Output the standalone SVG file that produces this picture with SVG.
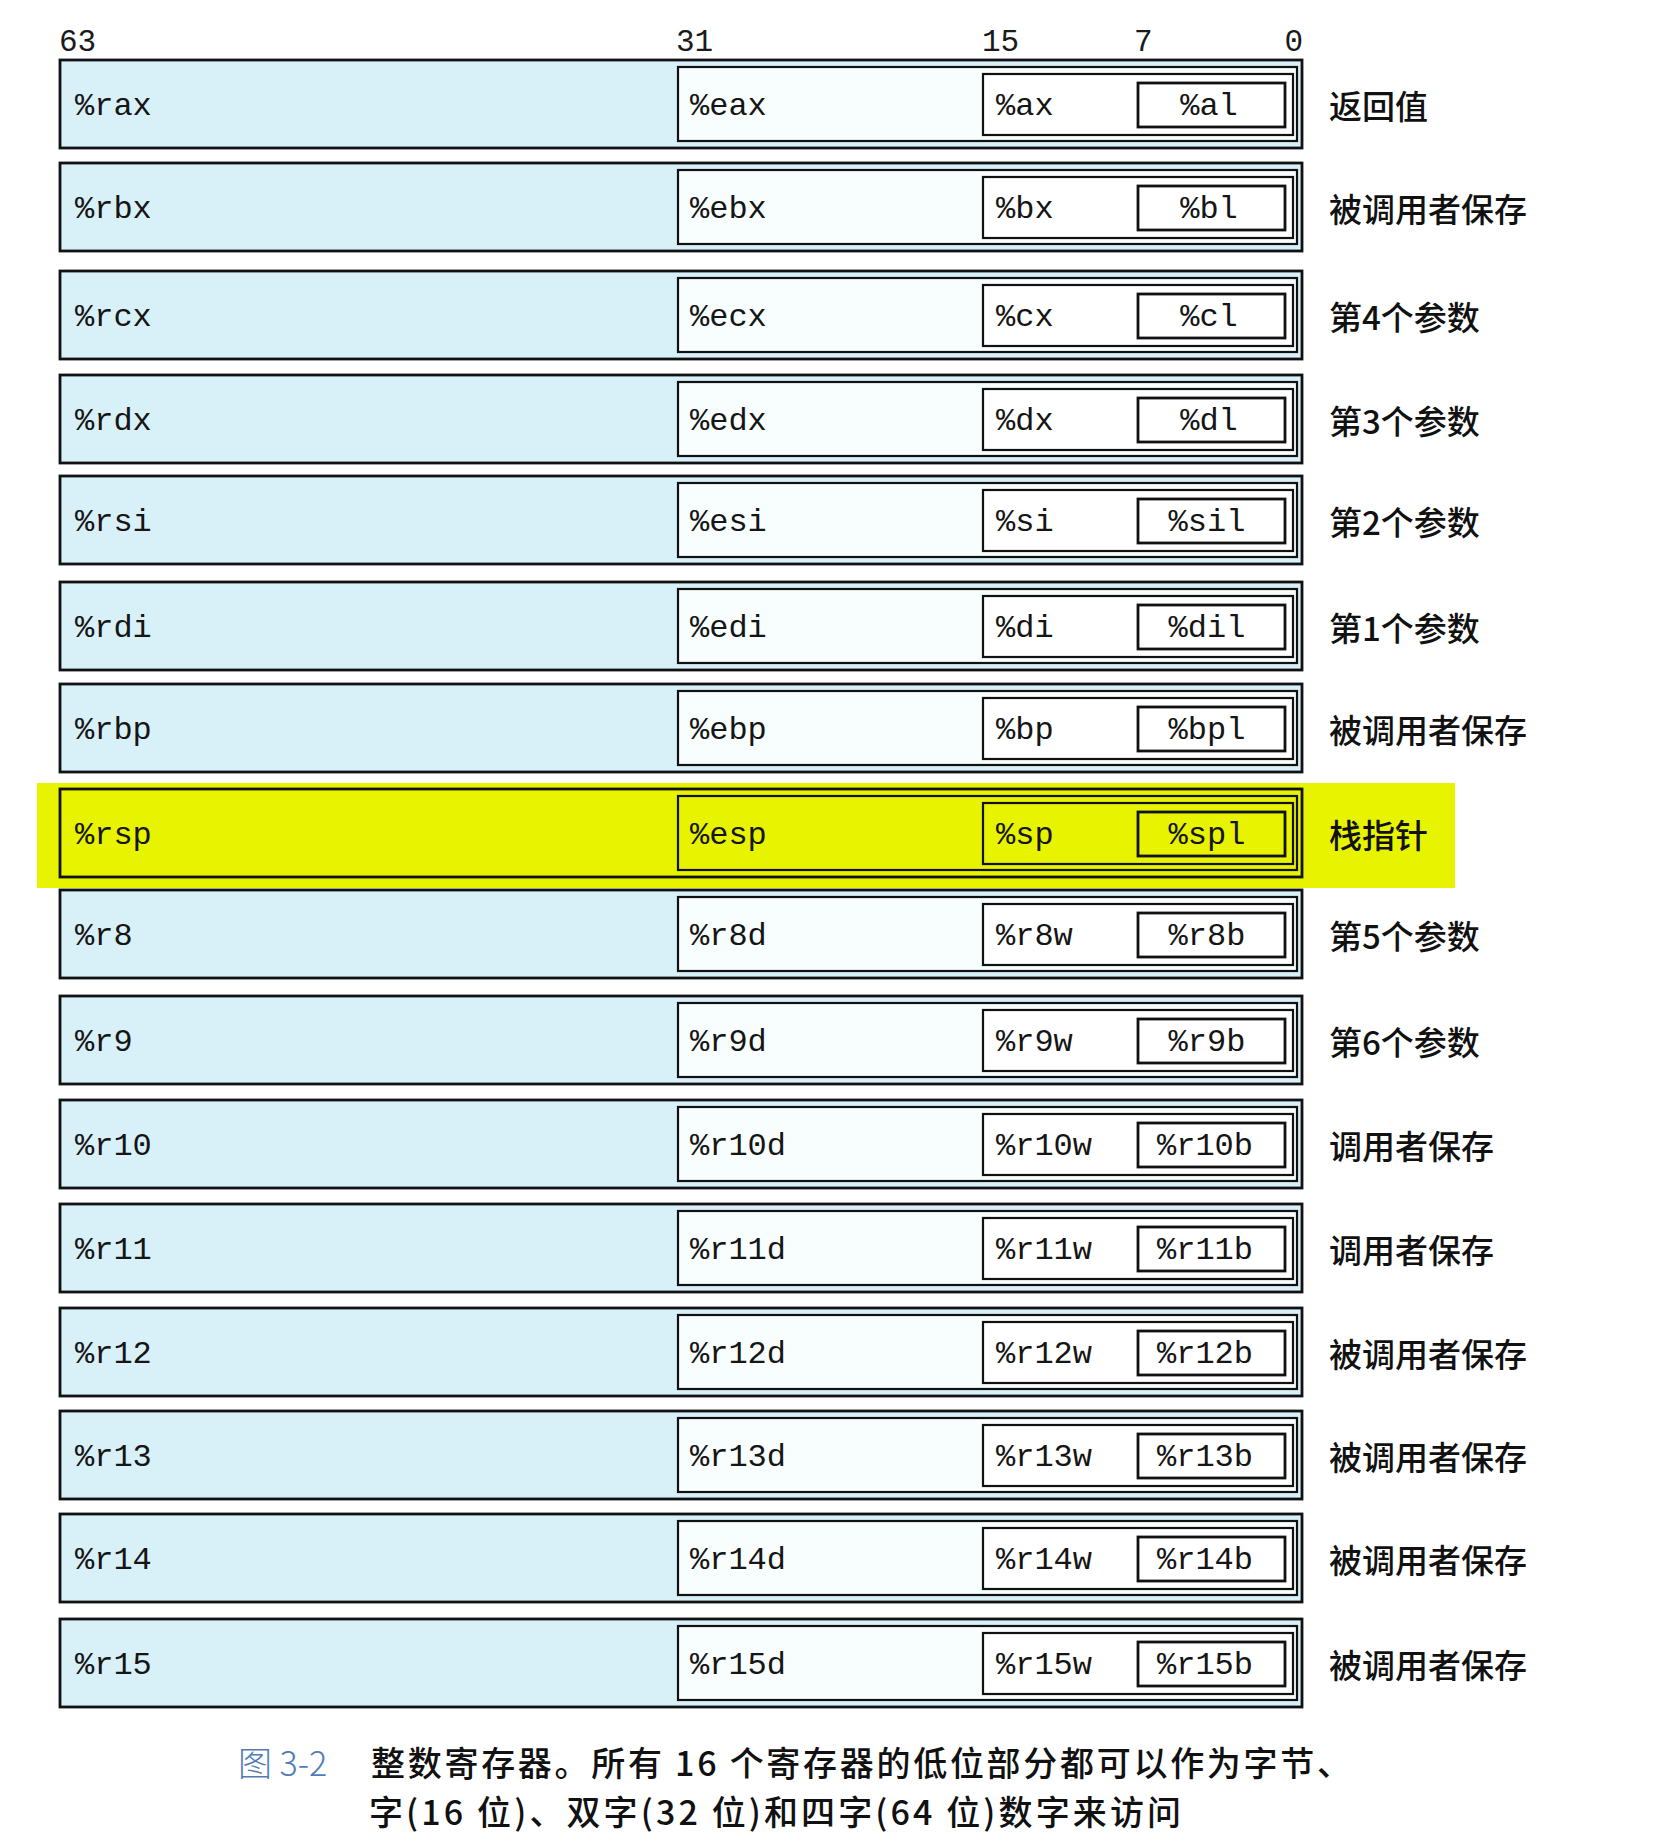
<svg xmlns="http://www.w3.org/2000/svg" width="1660" height="1840" viewBox="0 0 1660 1840">
<style>
.bg{fill:#ffffff}
.r64{fill:#d8f0f8;stroke:#111;stroke-width:2.8}
.r32{fill:#f8fdfe;stroke:#111;stroke-width:2.2}
.r16{fill:#ffffff;stroke:#111;stroke-width:2.2}
.r8{fill:#ffffff;stroke:#111;stroke-width:2.8}
.hl .r64,.hl .r32,.hl .r16,.hl .r8{fill:#e8f300}
.hlband{fill:#e8f300}
.reg{font-family:"Liberation Mono","DejaVu Sans Mono",monospace;font-size:32px;fill:#151515}
.mid{text-anchor:middle}
.bit{font-family:"Liberation Mono","DejaVu Sans Mono",monospace;font-size:31px;fill:#1a1a1a}
.lab{font-family:"Noto Sans CJK SC",sans-serif;font-size:33px;font-weight:500;fill:#111}
.cap{font-family:"Noto Sans CJK SC",sans-serif;font-size:34px;font-weight:500;fill:#111}
.capn{font-family:"Noto Sans CJK SC",sans-serif;font-size:34px;font-weight:300;fill:#4f7cb8}
</style>
<rect class="bg" x="0" y="0" width="1660" height="1840"/>

<g id="bit-positions">
<text class="bit" x="59" y="51">63</text>
<text class="bit" x="676" y="51">31</text>
<text class="bit" x="982" y="51">15</text>
<text class="bit" x="1134" y="51">7</text>
<text class="bit" x="1303" y="51" text-anchor="end">0</text>
</g>

<g id="reg-rax">
<rect class="r64" x="60" y="60" width="1242" height="88"/>
<rect class="r32" x="678" y="67" width="619" height="74"/>
<rect class="r16" x="983" y="74" width="310" height="61"/>
<rect class="r8" x="1138" y="83" width="147" height="44"/>
<text class="reg" x="75" y="115">%rax</text>
<text class="reg" x="690" y="115">%eax</text>
<text class="reg" x="996" y="115">%ax</text>
<text class="reg mid" x="1209" y="115">%al</text>
<text class="lab" x="1329" y="119">返回值</text>
</g>

<g id="reg-rbx">
<rect class="r64" x="60" y="163" width="1242" height="88"/>
<rect class="r32" x="678" y="170" width="619" height="74"/>
<rect class="r16" x="983" y="177" width="310" height="61"/>
<rect class="r8" x="1138" y="186" width="147" height="44"/>
<text class="reg" x="75" y="218">%rbx</text>
<text class="reg" x="690" y="218">%ebx</text>
<text class="reg" x="996" y="218">%bx</text>
<text class="reg mid" x="1209" y="218">%bl</text>
<text class="lab" x="1329" y="222">被调用者保存</text>
</g>

<g id="reg-rcx">
<rect class="r64" x="60" y="271" width="1242" height="88"/>
<rect class="r32" x="678" y="278" width="619" height="74"/>
<rect class="r16" x="983" y="285" width="310" height="61"/>
<rect class="r8" x="1138" y="294" width="147" height="44"/>
<text class="reg" x="75" y="326">%rcx</text>
<text class="reg" x="690" y="326">%ecx</text>
<text class="reg" x="996" y="326">%cx</text>
<text class="reg mid" x="1209" y="326">%cl</text>
<text class="lab" x="1329" y="330">第4个参数</text>
</g>

<g id="reg-rdx">
<rect class="r64" x="60" y="375" width="1242" height="88"/>
<rect class="r32" x="678" y="382" width="619" height="74"/>
<rect class="r16" x="983" y="389" width="310" height="61"/>
<rect class="r8" x="1138" y="398" width="147" height="44"/>
<text class="reg" x="75" y="430">%rdx</text>
<text class="reg" x="690" y="430">%edx</text>
<text class="reg" x="996" y="430">%dx</text>
<text class="reg mid" x="1209" y="430">%dl</text>
<text class="lab" x="1329" y="434">第3个参数</text>
</g>

<g id="reg-rsi">
<rect class="r64" x="60" y="476" width="1242" height="88"/>
<rect class="r32" x="678" y="483" width="619" height="74"/>
<rect class="r16" x="983" y="490" width="310" height="61"/>
<rect class="r8" x="1138" y="499" width="147" height="44"/>
<text class="reg" x="75" y="531">%rsi</text>
<text class="reg" x="690" y="531">%esi</text>
<text class="reg" x="996" y="531">%si</text>
<text class="reg mid" x="1207" y="531">%sil</text>
<text class="lab" x="1329" y="535">第2个参数</text>
</g>

<g id="reg-rdi">
<rect class="r64" x="60" y="582" width="1242" height="88"/>
<rect class="r32" x="678" y="589" width="619" height="74"/>
<rect class="r16" x="983" y="596" width="310" height="61"/>
<rect class="r8" x="1138" y="605" width="147" height="44"/>
<text class="reg" x="75" y="637">%rdi</text>
<text class="reg" x="690" y="637">%edi</text>
<text class="reg" x="996" y="637">%di</text>
<text class="reg mid" x="1207" y="637">%dil</text>
<text class="lab" x="1329" y="641">第1个参数</text>
</g>

<g id="reg-rbp">
<rect class="r64" x="60" y="684" width="1242" height="88"/>
<rect class="r32" x="678" y="691" width="619" height="74"/>
<rect class="r16" x="983" y="698" width="310" height="61"/>
<rect class="r8" x="1138" y="707" width="147" height="44"/>
<text class="reg" x="75" y="739">%rbp</text>
<text class="reg" x="690" y="739">%ebp</text>
<text class="reg" x="996" y="739">%bp</text>
<text class="reg mid" x="1207" y="739">%bpl</text>
<text class="lab" x="1329" y="743">被调用者保存</text>
</g>

<g id="reg-rsp" class="hl">
<rect class="hlband" x="37" y="783" width="1418" height="105"/>
<rect class="r64" x="60" y="789" width="1242" height="88"/>
<rect class="r32" x="678" y="796" width="619" height="74"/>
<rect class="r16" x="983" y="803" width="310" height="61"/>
<rect class="r8" x="1138" y="812" width="147" height="44"/>
<text class="reg" x="75" y="844">%rsp</text>
<text class="reg" x="690" y="844">%esp</text>
<text class="reg" x="996" y="844">%sp</text>
<text class="reg mid" x="1207" y="844">%spl</text>
<text class="lab" x="1329" y="848">栈指针</text>
</g>

<g id="reg-r8">
<rect class="r64" x="60" y="890" width="1242" height="88"/>
<rect class="r32" x="678" y="897" width="619" height="74"/>
<rect class="r16" x="983" y="904" width="310" height="61"/>
<rect class="r8" x="1138" y="913" width="147" height="44"/>
<text class="reg" x="75" y="945">%r8</text>
<text class="reg" x="690" y="945">%r8d</text>
<text class="reg" x="996" y="945">%r8w</text>
<text class="reg mid" x="1207" y="945">%r8b</text>
<text class="lab" x="1329" y="949">第5个参数</text>
</g>

<g id="reg-r9">
<rect class="r64" x="60" y="996" width="1242" height="88"/>
<rect class="r32" x="678" y="1003" width="619" height="74"/>
<rect class="r16" x="983" y="1010" width="310" height="61"/>
<rect class="r8" x="1138" y="1019" width="147" height="44"/>
<text class="reg" x="75" y="1051">%r9</text>
<text class="reg" x="690" y="1051">%r9d</text>
<text class="reg" x="996" y="1051">%r9w</text>
<text class="reg mid" x="1207" y="1051">%r9b</text>
<text class="lab" x="1329" y="1055">第6个参数</text>
</g>

<g id="reg-r10">
<rect class="r64" x="60" y="1100" width="1242" height="88"/>
<rect class="r32" x="678" y="1107" width="619" height="74"/>
<rect class="r16" x="983" y="1114" width="310" height="61"/>
<rect class="r8" x="1138" y="1123" width="147" height="44"/>
<text class="reg" x="75" y="1155">%r10</text>
<text class="reg" x="690" y="1155">%r10d</text>
<text class="reg" x="996" y="1155">%r10w</text>
<text class="reg mid" x="1205" y="1155">%r10b</text>
<text class="lab" x="1329" y="1159">调用者保存</text>
</g>

<g id="reg-r11">
<rect class="r64" x="60" y="1204" width="1242" height="88"/>
<rect class="r32" x="678" y="1211" width="619" height="74"/>
<rect class="r16" x="983" y="1218" width="310" height="61"/>
<rect class="r8" x="1138" y="1227" width="147" height="44"/>
<text class="reg" x="75" y="1259">%r11</text>
<text class="reg" x="690" y="1259">%r11d</text>
<text class="reg" x="996" y="1259">%r11w</text>
<text class="reg mid" x="1205" y="1259">%r11b</text>
<text class="lab" x="1329" y="1263">调用者保存</text>
</g>

<g id="reg-r12">
<rect class="r64" x="60" y="1308" width="1242" height="88"/>
<rect class="r32" x="678" y="1315" width="619" height="74"/>
<rect class="r16" x="983" y="1322" width="310" height="61"/>
<rect class="r8" x="1138" y="1331" width="147" height="44"/>
<text class="reg" x="75" y="1363">%r12</text>
<text class="reg" x="690" y="1363">%r12d</text>
<text class="reg" x="996" y="1363">%r12w</text>
<text class="reg mid" x="1205" y="1363">%r12b</text>
<text class="lab" x="1329" y="1367">被调用者保存</text>
</g>

<g id="reg-r13">
<rect class="r64" x="60" y="1411" width="1242" height="88"/>
<rect class="r32" x="678" y="1418" width="619" height="74"/>
<rect class="r16" x="983" y="1425" width="310" height="61"/>
<rect class="r8" x="1138" y="1434" width="147" height="44"/>
<text class="reg" x="75" y="1466">%r13</text>
<text class="reg" x="690" y="1466">%r13d</text>
<text class="reg" x="996" y="1466">%r13w</text>
<text class="reg mid" x="1205" y="1466">%r13b</text>
<text class="lab" x="1329" y="1470">被调用者保存</text>
</g>

<g id="reg-r14">
<rect class="r64" x="60" y="1514" width="1242" height="88"/>
<rect class="r32" x="678" y="1521" width="619" height="74"/>
<rect class="r16" x="983" y="1528" width="310" height="61"/>
<rect class="r8" x="1138" y="1537" width="147" height="44"/>
<text class="reg" x="75" y="1569">%r14</text>
<text class="reg" x="690" y="1569">%r14d</text>
<text class="reg" x="996" y="1569">%r14w</text>
<text class="reg mid" x="1205" y="1569">%r14b</text>
<text class="lab" x="1329" y="1573">被调用者保存</text>
</g>

<g id="reg-r15">
<rect class="r64" x="60" y="1619" width="1242" height="88"/>
<rect class="r32" x="678" y="1626" width="619" height="74"/>
<rect class="r16" x="983" y="1633" width="310" height="61"/>
<rect class="r8" x="1138" y="1642" width="147" height="44"/>
<text class="reg" x="75" y="1674">%r15</text>
<text class="reg" x="690" y="1674">%r15d</text>
<text class="reg" x="996" y="1674">%r15w</text>
<text class="reg mid" x="1205" y="1674">%r15b</text>
<text class="lab" x="1329" y="1678">被调用者保存</text>
</g>

<g id="caption">
<text class="capn" x="238" y="1776">图 3-2</text>
<text class="cap" x="371" y="1776" textLength="980" lengthAdjust="spacing">整数寄存器。所有 16 个寄存器的低位部分都可以作为字节、</text>
<text class="cap" x="369" y="1825" textLength="812" lengthAdjust="spacing">字(16 位)、双字(32 位)和四字(64 位)数字来访问</text>
</g>
</svg>
